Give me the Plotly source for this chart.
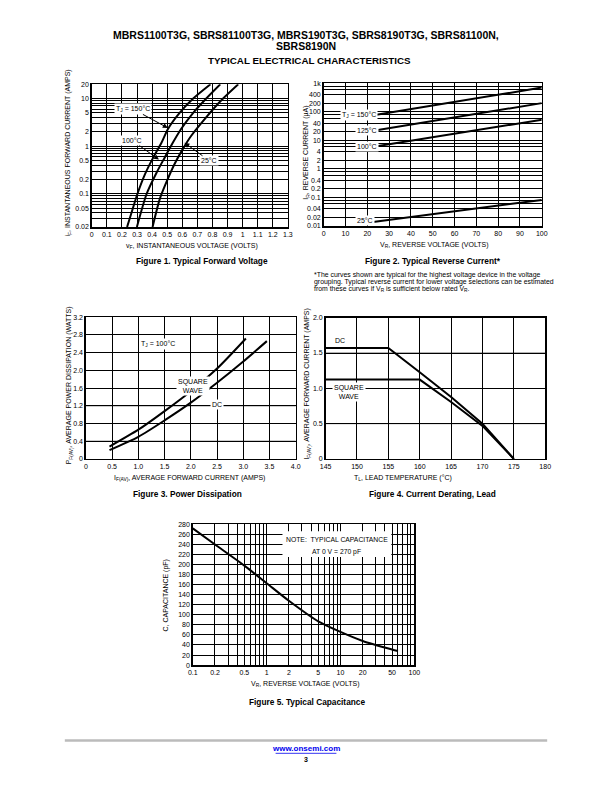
import numpy as np
import plotly.graph_objects as go

W, H = 612, 792

# ---------------- Data ----------------
# Figure 1: forward voltage (V) vs forward current (A)
vf_150 = [0.234, 0.271, 0.303, 0.353, 0.407, 0.462, 0.505, 0.581, 0.667, 0.787]
if_150 = [0.02, 0.048, 0.1, 0.258, 0.574, 1.18, 2.31, 4.97, 9.7, 20]
vf_100 = [0.299, 0.364, 0.43, 0.483, 0.537, 0.592, 0.667, 0.754, 0.852]
if_100 = [0.02, 0.1, 0.28, 0.574, 1.18, 2.3, 4.8, 9.7, 20]
vf_25 = [0.403, 0.451, 0.494, 0.548, 0.602, 0.657, 0.754, 0.862, 0.971]
if_25 = [0.02, 0.078, 0.173, 0.417, 0.857, 1.62, 3.9, 9.45, 20]
fig1_xticks = [0, 0.1, 0.2, 0.3, 0.4, 0.5, 0.6, 0.7, 0.8, 0.9, 1.0, 1.1, 1.2, 1.3]
fig1_xlabels = ["0", "0.1", "0.2", "0.3", "0.4", "0.5", "0.6", "0.7", "0.8", "0.9", "1", "1.1", "1.2", "1.3"]
fig1_yticks = [0.02, 0.05, 0.1, 0.2, 0.5, 1, 2, 5, 10, 20]
fig1_ylabels = ["0.02", "0.05", "0.1", "0.2", "0.5", "1", "2", "5", "10", "20"]

# Figure 2: reverse voltage (V) vs reverse current (uA)
vr_rev = [20, 100]
ir_150 = [70, 707]
ir_125 = [20, 202]
ir_100 = [5.5, 53]
ir_25 = [0.013, 0.082]
fig2_xticks = [0, 10, 20, 30, 40, 50, 60, 70, 80, 90, 100]
fig2_yticks = [0.01, 0.02, 0.04, 0.1, 0.2, 0.4, 1, 2, 4, 10, 20, 40, 100, 200, 400, 1000]
fig2_ylabels = ["0.01", "0.02", "0.04", "0.1", "0.2", "0.4", "1", "2", "4", "10", "20", "40", "100", "200", "400", "1k"]

# Figure 3: average forward current (A) vs power dissipation (W)
iav_sq = [0.45, 1.0, 1.5, 2.0, 2.5, 3.05]
pav_sq = [0.28, 0.66, 1.08, 1.53, 2.04, 2.72]
iav_dc = [0.45, 1.0, 1.5, 2.0, 2.5, 3.0, 3.45]
pav_dc = [0.20, 0.50, 0.87, 1.27, 1.72, 2.20, 2.66]
fig3_xticks = [0, 0.5, 1.0, 1.5, 2.0, 2.5, 3.0, 3.5, 4.0]
fig3_xlabels = ["0", "0.5", "1.0", "1.5", "2.0", "2.5", "3.0", "3.5", "4.0"]
fig3_yticks = [0, 0.4, 0.8, 1.2, 1.6, 2.0, 2.4, 2.8, 3.2]
fig3_ylabels = ["0", "0.4", "0.8", "1.2", "1.6", "2.0", "2.4", "2.8", "3.2"]

# Figure 4: lead temperature (C) vs average forward current (A)
tl_dc = [145, 155, 160, 165, 170, 175]
ia_dc = [1.57, 1.57, 1.227, 0.876, 0.50, 0.0]
tl_sq = [145, 160, 165, 170, 175]
ia_sq = [1.124, 1.124, 0.806, 0.468, 0.0]
fig4_xticks = [145, 150, 155, 160, 165, 170, 175, 180]
fig4_yticks = [0, 0.5, 1.0, 1.5, 2.0]
fig4_ylabels = ["0", "0.5", "1.0", "1.5", "2.0"]

# Figure 5: reverse voltage (V) vs capacitance (pF)
vr_cap = [0.1, 0.2, 0.5, 1, 2, 5, 10, 20, 50, 60]
cap = [272, 240, 198, 163, 128, 87, 66, 48, 31, 28]
fig5_xticks = [0.1, 0.2, 0.5, 1, 2, 5, 10, 20, 50, 100]
fig5_xlabels = ["0.1", "0.2", "0.5", "1", "2", "5", "10", "20", "50", "100"]
fig5_yticks = list(range(0, 281, 20))

# ---------------- Helpers ----------------
def PX(x):
    return x / W

def PY(y):
    return 1 - y / H

FONT = "Liberation Sans Narrow, Arial Narrow, Liberation Sans, Arial, sans-serif"
FONT2 = "Liberation Sans, Arial, sans-serif"

def log_minor(lo, hi):
    vals = []
    for e in range(-3, 4):
        for m in range(1, 10):
            v = m * 10 ** e
            if lo * 0.999 <= v <= hi * 1.001:
                vals.append(v)
    return vals

def axis(x0, x1, **kw):
    d = dict(domain=[PX(x0), PX(x1)], showline=True, mirror=True, linecolor="black",
             linewidth=1.5, showgrid=True, gridcolor="black", gridwidth=1,
             zeroline=False, ticks="", tickfont=dict(family=FONT, size=7, color="black"),
             tickmode="array", fixedrange=True)
    d.update(kw)
    return d

def yaxis(y0, y1, **kw):
    d = dict(domain=[PY(y1), PY(y0)], showline=True, mirror=True, linecolor="black",
             linewidth=1.5, showgrid=True, gridcolor="black", gridwidth=1,
             zeroline=False, ticks="", tickfont=dict(family=FONT, size=7, color="black"),
             tickmode="array", fixedrange=True)
    d.update(kw)
    return d

fig = go.Figure()

def curve(x, y, xa, ya, shape="spline"):
    fig.add_trace(go.Scatter(x=x, y=y, xaxis=xa, yaxis=ya, mode="lines",
                             line=dict(color="black", width=2, shape=shape, smoothing=0.7),
                             showlegend=False, hoverinfo="skip"))

curve(vf_150, if_150, "x", "y")
curve(vf_100, if_100, "x", "y")
curve(vf_25, if_25, "x", "y")
curve(vr_rev, ir_150, "x2", "y2", "linear")
curve(vr_rev, ir_125, "x2", "y2", "linear")
curve(vr_rev, ir_100, "x2", "y2", "linear")
curve(vr_rev, ir_25, "x2", "y2", "linear")
curve(iav_sq, pav_sq, "x3", "y3")
curve(iav_dc, pav_dc, "x3", "y3")
curve(tl_dc, ia_dc, "x4", "y4", "linear")
curve(tl_sq, ia_sq, "x4", "y4", "linear")
curve(vr_cap, cap, "x5", "y5")

layout = dict(
    width=W, height=H, margin=dict(l=0, r=0, t=0, b=0),
    paper_bgcolor="white", plot_bgcolor="white", showlegend=False,
    xaxis=axis(87.5, 287.5, anchor="y", range=[0, 1.3], tickvals=fig1_xticks, ticktext=fig1_xlabels),
    yaxis=yaxis(81, 225, anchor="x", type="log", range=[np.log10(0.02), np.log10(20)],
                tickvals=fig1_yticks, ticktext=fig1_ylabels,
                minor=dict(tickmode="array", tickvals=log_minor(0.02, 20), showgrid=True,
                           gridcolor="black", gridwidth=1, ticks="")),
    xaxis2=axis(324, 546.5, anchor="y2", range=[0, 100], tickvals=fig2_xticks,
                ticktext=[str(v) for v in fig2_xticks]),
    yaxis2=yaxis(80, 224, anchor="x2", type="log", range=[-2, 3],
                 tickvals=fig2_yticks, ticktext=fig2_ylabels,
                 minor=dict(tickmode="array",
                            tickvals=[m * 10 ** e for e in range(-2, 3) for m in (6, 8)],
                            showgrid=True, gridcolor="black", gridwidth=1, ticks="")),
    xaxis3=axis(81.5, 295.5, anchor="y3", range=[0, 4], tickvals=fig3_xticks, ticktext=fig3_xlabels),
    yaxis3=yaxis(316, 459, anchor="x3", range=[0, 3.2], tickvals=fig3_yticks, ticktext=fig3_ylabels),
    xaxis4=axis(326, 550, anchor="y4", range=[145, 180], tickvals=fig4_xticks,
                ticktext=[str(v) for v in fig4_xticks]),
    yaxis4=yaxis(316.5, 459, anchor="x4", range=[0, 2], tickvals=fig4_yticks, ticktext=fig4_ylabels),
    xaxis5=axis(190.5, 416.5, anchor="y5", type="log", range=[-1, 2], tickvals=fig5_xticks,
                ticktext=fig5_xlabels,
                minor=dict(tickmode="array", tickvals=log_minor(0.1, 100), showgrid=True,
                           gridcolor="black", gridwidth=1, ticks="")),
    yaxis5=yaxis(525, 667, anchor="x5", range=[0, 280], tickvals=fig5_yticks,
                 ticktext=[str(v) for v in fig5_yticks]),
)
fig.update_layout(**layout)

ann = []

def text(x, y, s, size=7, bold=False, angle=0, xanchor="center", font=FONT, color="black",
         bg=None, align="center"):
    d = dict(x=PX(x), y=PY(y), xref="paper", yref="paper", text=("<b>%s</b>" % s) if bold else s,
             showarrow=False, xanchor=xanchor, yanchor="middle", textangle=angle, align=align,
             font=dict(family=font, size=size, color=color))
    if bg:
        d.update(bgcolor=bg, borderpad=1)
    ann.append(d)

def label(x, y, s, hx=None, hy=None, size=7):
    d = dict(xref="paper", yref="paper", text=s, bgcolor="white", borderpad=1,
             font=dict(family=FONT, size=size, color="black"), align="center")
    if hx is None:
        d.update(x=PX(x), y=PY(y), showarrow=False)
    else:
        d.update(x=PX(hx), y=PY(hy), ax=x - hx, ay=y - hy, axref="pixel", ayref="pixel",
                 showarrow=True, arrowhead=2, arrowsize=1, arrowwidth=1, arrowcolor="black",
                 standoff=0)
    ann.append(d)

# Header
text(306, 31, "MBRS1100T3G, SBRS81100T3G, MBRS190T3G, SBRS8190T3G, SBRS81100N,", size=10.5, bold=True)
text(306, 42, "SBRS8190N", size=10.5, bold=True)
text(310, 57, "TYPICAL ELECTRICAL CHARACTERISTICS", size=9.8, bold=True)

# Figure 1 texts
text(63, 150, "i<sub>F</sub>, INSTANTANEOUS FORWARD CURRENT (AMPS)", angle=-90)
text(190, 244, "v<sub>F</sub>, INSTANTANEOUS VOLTAGE (VOLTS)")
text(200, 259, "Figure 1. Typical Forward Voltage", size=8.3, bold=True, font=FONT2)
label(130, 106, "T<sub>J</sub> = 150°C", 165, 125)
label(129.5, 138, "100°C", 156, 157)
label(207, 158, "25°C", 182, 140)

# Figure 2 texts
text(306, 150, "I<sub>R</sub>, REVERSE CURRENT (μA)", angle=-90)
text(437, 243, "V<sub>R</sub>, REVERSE VOLTAGE (VOLTS)")
text(436, 259, "Figure 2. Typical Reverse Current*", size=8.3, bold=True, font=FONT2)
label(360, 106, "T<sub>J</sub> = 150°C")
label(368, 122, "125°C")
label(368, 138, "100°C")
label(366.5, 213, "25°C")
footnote = ["*The curves shown are typical for the highest voltage device in the voltage",
            "grouping. Typical reverse current for lower voltage selections can be estimated",
            "from these curves if V<sub>R</sub> is sufficient below rated V<sub>R</sub>."]
for i, line in enumerate(footnote):
    text(312, 273.3 + 7.2 * i, line, size=6.9, xanchor="left", font=FONT2, align="left")

# Figure 3 texts
text(64, 385, "P<sub>F(AV)</sub>, AVERAGE POWER DISSIPATION (WATTS)", angle=-90)
text(187, 478, "I<sub>F(AV)</sub>, AVERAGE FORWARD CURRENT (AMPS)")
text(185, 494, "Figure 3. Power Dissipation", size=8.3, bold=True, font=FONT2)
label(136, 343, "T<sub>J</sub> = 100°C")
label(173, 385, "SQUARE<br>WAVE")
label(215, 404, "DC")

# Figure 4 texts
text(307, 383, "I<sub>F(AV)</sub>, AVERAGE FORWARD CURRENT (AMPS)", angle=-90)
text(405, 478, "T<sub>L</sub>, LEAD TEMPERATURE (°C)")
text(435, 494, "Figure 4. Current Derating, Lead", size=8.3, bold=True, font=FONT2)
label(341, 339, "DC")
label(350, 391, "SQUARE<br>WAVE")

# Figure 5 texts
text(163, 597, "C, CAPACITANCE (pF)", angle=-90)
text(305, 686, "V<sub>R</sub>, REVERSE VOLTAGE (VOLTS)")
text(307, 704, "Figure 5. Typical Capacitance", size=8.3, bold=True, font=FONT2)
text(337.5, 540, "NOTE:  TYPICAL CAPACITANCE", size=6.8)
text(337.5, 552.5, "AT 0 V = 270 pF", size=6.8)

# Footer
text(306, 751, "www.onsemi.com", size=8, bold=True, font=FONT2, color="#0000ee")
text(306, 762, "3", size=7, bold=True, font=FONT2)

fig.update_layout(annotations=ann)

shapes = [
    dict(type="line", xref="paper", yref="paper", x0=PX(60), x1=PX(552), y0=PY(743), y1=PY(743),
         line=dict(color="#bbbbbb", width=2.5)),
    dict(type="line", xref="paper", yref="paper", x0=PX(275), x1=PX(337), y0=PY(756), y1=PY(756),
         line=dict(color="#0000ee", width=0.8)),
    dict(type="rect", xref="paper", yref="paper", x0=PX(282), x1=PX(393), y0=PY(558), y1=PY(532),
         fillcolor="white", line=dict(width=0), layer="above"),
]
for ya, xa, v in [("y3", "x3", 0.4), ("y3", "x3", 1.2), ("y4", "x4", 0.5), ("y4", "x4", 1.5)]:
    shapes.append(dict(type="line", xref=xa + " domain", yref=ya, x0=0, x1=1, y0=v, y1=v,
                       layer="below", line=dict(color="#9a9a9a", width=1.3)))
fig.update_layout(shapes=shapes)

fig.write_html(
    "out.html",
    config=dict(displayModeBar=False, staticPlot=True),
    post_script="document.body.style.margin='0';document.body.style.padding='0';"
                "document.documentElement.style.margin='0';",
)
